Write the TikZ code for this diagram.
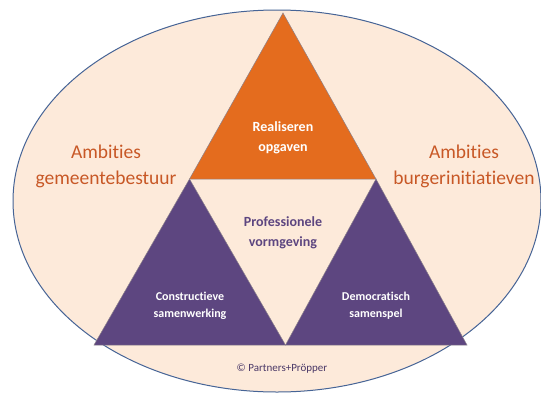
\documentclass[tikz,border=0pt]{standalone}
\usepackage{fontspec}
\setmainfont[Ligatures={NoCommon}]{Carlito}
\definecolor{peach}{RGB}{253,234,218}
\definecolor{orangetri}{RGB}{228,108,30}
\definecolor{purpletri}{RGB}{93,70,128}
\definecolor{ambtext}{RGB}{200,88,38}
\definecolor{ellline}{RGB}{70,100,150}
\definecolor{triline}{RGB}{140,130,140}
\begin{document}
\begin{tikzpicture}[x=1pt,y=-1pt,
  tri/.style={draw=triline,line width=0.5pt,line join=miter},
  wtext/.style={text=white,align=center},
  amb/.style={text=ambtext,font=\fontsize{19.5}{26}\selectfont,align=center}]
\useasboundingbox (0,0) rectangle (541,394);
\fill[white] (0,0) rectangle (541,394);
\begin{scope}
\clip (0,0) rectangle (541,394);
\draw[fill=peach,draw=ellline,line width=1pt] (277,201) ellipse [x radius=264, y radius=191];
\end{scope}
\coordinate (A) at (283,13);
\coordinate (L) at (94,345);
\coordinate (R) at (467,345);
\coordinate (M) at (285.5,345);
\coordinate (ML) at (189.5,179);
\coordinate (MR) at (376,179);
\fill[orangetri] (A) -- (ML) -- (MR) -- cycle;
\draw[tri] (A) -- (ML) -- (MR) -- cycle;
\fill[purpletri] (ML) -- (L) -- (M) -- cycle;
\draw[tri] (ML) -- (L) -- (M) -- cycle;
\fill[purpletri] (MR) -- (M) -- (R) -- cycle;
\draw[tri] (MR) -- (M) -- (R) -- cycle;
\node[wtext,font=\fontsize{14}{20}\selectfont\bfseries] (real) at (283,138) {Realiseren\\opgaven};
\node[text=purpletri,align=center,font=\fontsize{14}{20}\selectfont\bfseries] (prof) at (283,233) {Professionele\\vormgeving};
\node[wtext,font=\fontsize{12}{17}\selectfont\bfseries] (cons) at (190,306) {Constructieve\\samenwerking};
\node[wtext,font=\fontsize{12}{17}\selectfont\bfseries] (demo) at (376,306) {Democratisch\\samenspel};
\node[amb] (gem) at (106,166) {Ambities\\gemeentebestuur};
\node[amb] (bur) at (464,166) {Ambities\\burgerinitiatieven};
\node[text=purpletri!80!black,font=\fontsize{11}{12}\selectfont] (copy) at (282,369) {© Partners+Pröpper};
\end{tikzpicture}
\end{document}
